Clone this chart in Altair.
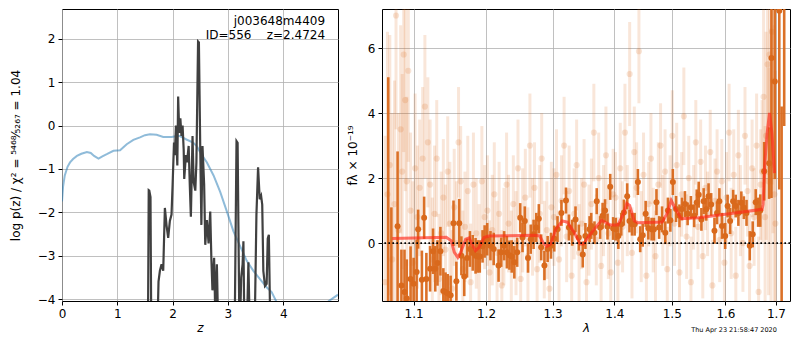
import altair as alt
import pandas as pd

# ---------------- Left panel: log p(z) ----------------
z_prior = [0.0, 0.02, 0.05, 0.1, 0.145, 0.2, 0.27, 0.35, 0.45, 0.52, 0.58, 0.66, 0.73, 0.81,
           0.93, 1.05, 1.17, 1.29, 1.41, 1.50, 1.59, 1.71, 1.83, 1.98, 2.08, 2.13, 2.25, 2.37,
           2.44, 2.50, 2.62, 2.74, 2.86, 2.98, 3.10, 3.22, 3.34, 3.46, 3.58, 3.70, 3.79, 3.88,
           4.0, 4.3, 4.6, 4.82, 4.99]
lnp_prior = [-1.75, -1.4, -1.15, -0.95, -0.85, -0.77, -0.70, -0.65, -0.61, -0.63, -0.70, -0.76,
             -0.71, -0.66, -0.58, -0.57, -0.43, -0.33, -0.27, -0.22, -0.20, -0.21, -0.26, -0.26,
             -0.24, -0.24, -0.32, -0.39, -0.48, -0.62, -0.85, -1.15, -1.53, -1.98, -2.44, -2.78,
             -3.12, -3.35, -3.54, -3.73, -3.84, -4.07, -4.4, -4.6, -4.4, -4.05, -3.90]

z_pz = [1.50, 1.553, 1.568, 1.578, 1.60, 1.615, 1.72, 1.745, 1.77, 1.80, 1.83, 1.86, 1.89, 1.92,
        1.95, 1.98, 2.0, 2.025, 2.04, 2.06, 2.085, 2.10, 2.12, 2.14, 2.16, 2.18, 2.20, 2.21,
        2.24, 2.26, 2.29, 2.31, 2.33, 2.36, 2.38, 2.41, 2.43, 2.46, 2.475, 2.50, 2.52, 2.54,
        2.57, 2.59, 2.62, 2.65, 2.68, 2.70, 2.72, 2.75, 2.77, 2.80, 2.83, 3.12, 3.155, 3.175,
        3.21, 3.24, 3.265, 3.28, 3.30, 3.35, 3.37, 3.40, 3.48, 3.515, 3.545, 3.575, 3.60, 3.62,
        3.64, 3.67, 3.70, 3.72, 3.74, 3.77, 3.85]
lnp_pz = [-6, -5, -1.49, -1.5, -1.65, -5, -5, -3.6, -3.35, -3.2, -3.35, -1.9, -2.3, -2.59,
          -2.2, -2.05, -1.36, -0.39, -0.68, 0.0, -0.92, 0.67, -0.17, 0.17, -0.24, 0.0, -0.55, -1.23,
          -0.68, -0.85, -0.47, -1.36, -2.1, -0.24, -1.3, -1.5, -0.85, 1.94, 1.92, -0.56, -2.29, -0.47,
          -1.36, -2.75, -2.18, -2.72, -1.98, -3.05, -3.8, -3.05, -4.3, -3.2, -5, -5, -0.36, -0.4,
          -5, -3.5, -3.2, -2.67, -5, -4.3, -3.15, -5, -5, -2.06, -0.96, -1.70, -1.62, -1.82,
          -3.35, -3.70, -3.65, -2.6, -2.52, -5, -6]

label_lines = ["j003648m4409", "ID=556\u00a0\u00a0\u00a0\u00a0z=2.4724"]
label_z = [4.756, 4.756]
label_y = [2.41, 2.09]

# ---------------- Right panel: spectrum ----------------
dark_lam = [1.067, 1.071, 1.079, 1.084, 1.088, 1.091, 1.096, 1.100, 1.104, 1.106, 1.111, 1.114,
            1.117, 1.122, 1.126, 1.129, 1.132, 1.136, 1.140, 1.143, 1.146, 1.150, 1.154, 1.158,
            1.162, 1.165, 1.169, 1.173, 1.177, 1.181, 1.185, 1.188, 1.191, 1.195, 1.198,
            1.2017, 1.2064, 1.2111, 1.2182, 1.2221, 1.2264, 1.2304, 1.2342, 1.2376, 1.2415,
            1.2458, 1.2503, 1.2538, 1.2572, 1.2621, 1.2662, 1.2706, 1.2747, 1.2786, 1.2822,
            1.2872, 1.2922, 1.2974, 1.3025, 1.3076, 1.3138, 1.3210, 1.3257, 1.3309, 1.3362,
            1.3415, 1.3479, 1.3522, 1.3590,
            1.3617, 1.3670, 1.3707, 1.3763, 1.3804, 1.3845, 1.3886, 1.3931, 1.3980, 1.4024,
            1.4068, 1.4117, 1.4162, 1.4218, 1.4257, 1.4301, 1.4346, 1.4402, 1.4442, 1.4486,
            1.4537, 1.4584, 1.4641, 1.4682, 1.4727, 1.4774, 1.4826, 1.4884, 1.4931, 1.4975,
            1.5020, 1.5078, 1.5139, 1.5185, 1.5240, 1.5289, 1.5349, 1.5410, 1.5457,
            1.5494, 1.5544, 1.5586, 1.5635, 1.5678, 1.5728, 1.5790, 1.5839, 1.5883, 1.5933,
            1.5995, 1.6041, 1.6090, 1.6148, 1.6198, 1.6250, 1.6308, 1.6358, 1.6410, 1.6474,
            1.6532, 1.6592, 1.6640, 1.6683, 1.6762, 1.6862, 1.6909, 1.6977, 1.7069, 1.7117, 1.7170]
dark_flux = [-2.0, -2.0, 0.52, -1.30, -1.50, -1.70, -1.10, -1.25, -0.89, 0.43, -1.13, 0.78,
             -1.10, -0.79, -0.25, -0.79, -0.61, -0.25, -1.47, -1.50, -1.55, -1.60, 0.61, -1.17,
             0.61, -0.39, -1.03, -0.46, -0.18, -0.30, -0.39, -0.41, -0.41, -0.10, 0.05,
             0.12, -0.08, -0.18, -0.69, -0.28, -0.08, -0.28, -0.37, -0.41, -0.59,
             -0.28, 0.78, 0.17, 0.68, -0.46, 0.12, 0.27, 0.48, 0.75, -0.13,
             -0.69, -0.18, -0.08, 0.14, 0.43, 0.93, 1.31, 0.48, 0.32, 0.73,
             0.17, -0.35, 0.22, 0.43,
             0.53, 0.32, 1.29, 0.48, 0.84, 1.00, 0.51, 1.73, 0.45, 0.43,
             0.22, 0.58, 0.94, 1.44, 0.68, 0.58, 0.58, 1.88, 0.12, 0.24,
             0.90, 0.46, 0.43, 0.43, 1.26, 0.48, 0.73, 0.32, 1.00, 0.70,
             1.88, 1.05, 0.84, 1.05, 1.20, 0.90, 1.10, 0.84, 1.25,
             1.49, 0.73, 1.29, 1.04, 1.44, 1.19, 0.38, 0.93, 1.29, 0.53,
             0.22, 1.14, 0.68, 1.29, 1.14, 0.93, 1.24, 1.09, 0.93, -0.08,
             0.27, 1.26, 0.95, 1.00, 2.21, 2.46, 5.69, 4.97, 7.15, -3.0, 10.0]
dark_err = [7.1, 3.1, 2.3, 1.1, 1.3, 1.2, 1.0, 0.8, 1.0, 0.6, 0.9, 0.65,
            0.8, 0.7, 0.7, 0.7, 0.7, 0.75, 0.7, 0.6, 0.6, 0.6, 0.7, 0.6,
            0.75, 0.6, 0.6, 0.6, 0.55, 0.55, 0.55, 0.5, 0.5, 0.5, 0.5,
            0.5, 0.45, 0.5, 0.5, 0.45, 0.45, 0.5, 0.45, 0.5, 0.5,
            0.45, 0.45, 0.45, 0.45, 0.45, 0.45, 0.45, 0.45, 0.45, 0.4,
            0.45, 0.4, 0.4, 0.4, 0.4, 0.4, 0.4, 0.4, 0.4, 0.4,
            0.4, 0.4, 0.4, 0.4,
            0.4, 0.35, 0.4, 0.35, 0.4, 0.35, 0.4, 0.4, 0.35, 0.35,
            0.4, 0.35, 0.4, 0.4, 0.35, 0.35, 0.35, 0.4, 0.4, 0.35,
            0.4, 0.35, 0.35, 0.35, 0.4, 0.35, 0.4, 0.35, 0.4, 0.35,
            0.4, 0.4, 0.35, 0.35, 0.4, 0.35, 0.35, 0.35, 0.4,
            0.4, 0.35, 0.4, 0.35, 0.4, 0.35, 0.4, 0.35, 0.4, 0.4,
            0.4, 0.35, 0.4, 0.35, 0.35, 0.4, 0.35, 0.35, 0.4, 0.45,
            0.4, 0.4, 0.45, 0.5, 0.9, 1.1, 4.3, 3.0, 5.5, 7.2, 6.4]

faint_lam = [1.063, 1.066, 1.069, 1.072, 1.075, 1.077, 1.080, 1.083, 1.085, 1.087, 1.089, 1.091,
             1.093, 1.096, 1.099, 1.102, 1.105, 1.108, 1.112, 1.115, 1.119,
             1.122, 1.125, 1.128, 1.131, 1.134, 1.137, 1.140, 1.143, 1.146, 1.149, 1.152, 1.155,
             1.158, 1.161, 1.164, 1.167, 1.170, 1.174, 1.178, 1.182, 1.186, 1.190, 1.194, 1.198,
             1.202, 1.205, 1.209, 1.212, 1.216, 1.219, 1.223, 1.226, 1.230, 1.233, 1.237, 1.240,
             1.244, 1.247, 1.251, 1.254, 1.258, 1.262, 1.265, 1.269, 1.272, 1.276, 1.280, 1.283,
             1.287, 1.291, 1.295, 1.298,
             1.302, 1.306, 1.310, 1.314, 1.318, 1.322, 1.326, 1.330, 1.334, 1.338, 1.342, 1.346,
             1.350, 1.354, 1.358, 1.362, 1.366, 1.370, 1.374, 1.378, 1.382, 1.386, 1.390, 1.394, 1.398,
             1.402, 1.406, 1.410, 1.414, 1.418, 1.422, 1.426, 1.430, 1.434, 1.438, 1.442, 1.446,
             1.450, 1.455, 1.459, 1.463, 1.467, 1.471, 1.476, 1.480, 1.484, 1.488, 1.492, 1.497,
             1.501, 1.505, 1.509, 1.514, 1.518, 1.522, 1.527, 1.531, 1.535, 1.540, 1.544, 1.548,
             1.553, 1.557, 1.562, 1.566, 1.571, 1.575, 1.580, 1.584, 1.589, 1.593, 1.598,
             1.602, 1.607, 1.611, 1.616, 1.620, 1.625, 1.629, 1.634, 1.638, 1.643, 1.647, 1.652,
             1.656, 1.661, 1.665, 1.669,
             1.672, 1.675, 1.678, 1.680, 1.683, 1.685, 1.687, 1.690, 1.692, 1.694, 1.697, 1.699]
faint_flux = [-1.2, 1.5, 2.4, -0.5, 1.2, 7.0, 0.4, 3.5, 2.2, 5.8, 4.4, 1.9, 5.3, 1.0, -0.6, 2.3,
              0.8, 1.7, 2.6, 4.2, 3.1,
              1.8, -0.5, 0.9, 2.6, -1.1, 0.3, 1.4, -0.2, 2.2, 0.6, -1.4, 1.1, 0.0, 3.1, 1.9, -0.8,
              0.5, 1.6, -1.2, 1.8, 0.3, -0.4, 1.9, 0.8,
              1.0, -0.9, 0.4, 1.5, -0.3, 0.9, -1.3, 0.2, 1.8, 0.6, -0.6, 1.2, 0.0, 2.3, -1.1, 0.7,
              1.4, -0.4, 3.0, 0.5, 1.7, -0.8, 0.9, 2.6, -0.2, 0.4, -1.4, 1.1,
              0.8, 2.1, -0.5, 1.3, 3.0, 0.2, 1.6, -1.0, 0.9, 2.4, -0.3, 0.6, 1.8, -1.2, 0.4, 1.2,
              3.4, 0.1, 2.0, -0.7, 1.0, 2.7, 0.3, -0.9, 1.5,
              1.4, -0.6, 2.3, 0.5, 3.4, 1.0, 5.2, -0.3, 2.8, 1.7, 5.9, 0.2, 2.1, -1.0, 1.2, 2.6,
              0.4, -0.4, 1.8, 3.0, 0.7, 2.2, -0.8, 1.3,
              3.3, 0.6, 2.4, -0.9, 1.5, 3.9, 0.2, 2.0, -1.2, 1.1, 3.1, 0.5, 2.5, -0.4, 1.7, 0.9,
              2.8, -1.3, 1.3, 2.2, 0.1, 1.9, -0.6,
              1.4, 3.4, 0.3, 2.1, -1.0, 2.7, 1.0, 0.0, 3.3, 1.6, -0.7, 2.3, 0.8, 3.0, -1.5, 1.8,
              2.2, 4.5, 0.8, 3.3, 5.5, 1.9, 5.8, 2.4, 6.5, 5.0, 1.5, 0.6]
faint_err = [4.5, 5.0, 4.0, 4.5, 3.8, 3.5, 3.6, 3.2, 3.0, 3.0, 2.8, 2.6, 2.8, 2.4, 2.5, 2.3,
             2.2, 2.1, 2.2, 2.2, 2.0,
             2.0, 1.9, 2.1, 1.8, 2.0, 1.9, 1.8, 2.0, 1.7, 1.9, 1.8, 1.8, 1.9, 1.7, 1.7, 1.8,
             1.7, 1.7, 1.8, 1.6, 1.7, 1.6, 1.7, 1.6,
             1.7, 1.6, 1.7, 1.6, 1.6, 1.6, 1.7, 1.5, 1.6, 1.5, 1.6, 1.5, 1.6, 1.5, 1.5, 1.6,
             1.5, 1.5, 1.6, 1.5, 1.4, 1.5, 1.5, 1.4, 1.5, 1.5, 1.5, 1.4,
             1.5, 1.4, 1.5, 1.4, 1.5, 1.4, 1.4, 1.5, 1.4, 1.4, 1.5, 1.4, 1.4, 1.5, 1.4, 1.4,
             1.5, 1.4, 1.4, 1.4, 1.4, 1.5, 1.4, 1.4, 1.4,
             1.4, 1.4, 1.4, 1.4, 1.5, 1.4, 1.6, 1.4, 1.4, 1.4, 1.6, 1.4, 1.3, 1.4, 1.3, 1.4,
             1.3, 1.4, 1.3, 1.3, 1.4, 1.3, 1.3, 1.4,
             1.4, 1.3, 1.3, 1.4, 1.3, 1.5, 1.3, 1.3, 1.4, 1.3, 1.3, 1.3, 1.3, 1.3, 1.3, 1.3,
             1.3, 1.4, 1.3, 1.3, 1.3, 1.3, 1.4,
             1.4, 1.5, 1.4, 1.4, 1.5, 1.4, 1.4, 1.5, 1.5, 1.4, 1.6, 1.5, 1.5, 1.6, 1.7, 1.7,
             2.2, 2.7, 2.8, 3.2, 3.4, 3.5, 3.7, 4.2, 4.7, 4.7, 5.2, 4.7]

model_lam = [1.072, 1.144, 1.151, 1.155, 1.160, 1.164, 1.171, 1.176, 1.181, 1.185, 1.190, 1.197,
             1.204, 1.272, 1.280, 1.285, 1.291, 1.297, 1.305, 1.315, 1.323, 1.334, 1.344, 1.349,
             1.358, 1.371, 1.379, 1.384, 1.393, 1.406, 1.415, 1.421, 1.426, 1.434, 1.440, 1.483,
             1.492, 1.499, 1.506, 1.517, 1.549, 1.611, 1.672, 1.674, 1.677, 1.682, 1.687, 1.692, 1.697]
model_flux = [0.14, 0.18, 0.07, -0.28, -0.44, -0.28, 0.12, 0.16, -0.08, -0.23, -0.13, 0.17,
              0.22, 0.24, 0.22, 0.02, -0.10, -0.03, 0.43, 0.68, 0.65, 0.33, -0.03, -0.03,
              0.22, 0.53, 0.70, 0.65, 0.56, 0.56, 0.88, 1.22, 1.16, 0.68, 0.63, 0.65,
              0.93, 1.31, 1.08, 0.75, 0.78, 0.91, 1.04, 1.19, 2.36, 3.37, 4.00, 3.37, 2.15]

stamp_text = ["Thu Apr 23 21:58:47 2020"]
stamp_lam = [1.702]
stamp_y = [-2.68]

# ---------------- Build ----------------
FONT = "DejaVu Sans"
ORANGE = "#d9691c"

df_prior = pd.DataFrame({"z": z_prior, "lnp": lnp_prior})
df_pz = pd.DataFrame({"z": z_pz, "lnp": lnp_pz})
df_lab = pd.DataFrame({"z": label_z, "lnp": label_y, "t": label_lines})

ytitle_left = "log p(z) / \u03c7\u00b2 = \u2075\u2074\u2076\u2078\u2044\u2085\u2082\u2086\u2087 = 1.04"

xz = alt.X("z:Q", scale=alt.Scale(domain=[0, 4.99], nice=False, zero=False),
           axis=alt.Axis(values=[0, 1, 2, 3, 4], title="z", titleFontStyle="italic"))
yl = alt.Y("lnp:Q", scale=alt.Scale(domain=[-4.046, 2.69], nice=False, zero=False),
           axis=alt.Axis(values=[-4, -3, -2, -1, 0, 1, 2], title=ytitle_left, titlePadding=15))

prior = alt.Chart(df_prior).mark_line(color="#1f77b4", opacity=0.5, strokeWidth=2, clip=True).encode(x=xz, y=yl)
pz = alt.Chart(df_pz).mark_line(color="#404040", strokeWidth=2.2, clip=True).encode(x="z:Q", y="lnp:Q")
lab = alt.Chart(df_lab).mark_text(align="right", baseline="middle", fontSize=12, font=FONT, color="black").encode(
    x="z:Q", y="lnp:Q", text="t:N")

left = alt.layer(prior, pz, lab).properties(width=276, height=292)

df_dark = pd.DataFrame({"lam": dark_lam, "flux": dark_flux, "err": dark_err})
df_faint = pd.DataFrame({"lam": faint_lam, "flux": faint_flux, "err": faint_err})
df_model = pd.DataFrame({"lam": model_lam, "flux": model_flux})
df_stamp = pd.DataFrame({"lam": stamp_lam, "flux": stamp_y, "t": stamp_text})

ytitle_right = "f\u03bb \u00d7 10\u207b\u00b9\u2079"
xs = alt.Scale(type="log", domain=[1.059, 1.729], nice=False, zero=False)
ys = alt.Scale(domain=[-1.78, 7.2], nice=False, zero=False)
xl = alt.X("lam:Q", scale=xs, axis=alt.Axis(values=[1.1, 1.2, 1.3, 1.4, 1.5, 1.6, 1.7], format=".1f",
                                             title="\u03bb", titleFontStyle="italic"))
yax = alt.Axis(values=[0, 2, 4, 6], title=ytitle_right, titlePadding=8)

faint_bars = alt.Chart(df_faint).transform_calculate(
    lo="datum.flux - datum.err", hi="datum.flux + datum.err").mark_rule(
    color=ORANGE, opacity=0.17, strokeWidth=3, clip=True).encode(
    x=xl, y=alt.Y("lo:Q", scale=ys, axis=yax, title=ytitle_right), y2="hi:Q")
faint_pts = alt.Chart(df_faint).mark_circle(color=ORANGE, opacity=0.18, size=38, clip=True).encode(
    x="lam:Q", y=alt.Y("flux:Q", title=ytitle_right))
dark_bars = alt.Chart(df_dark).transform_calculate(
    lo="datum.flux - datum.err", hi="datum.flux + datum.err").mark_rule(
    color=ORANGE, opacity=0.95, strokeWidth=2.6, clip=True).encode(
    x="lam:Q", y=alt.Y("lo:Q", title=ytitle_right), y2="hi:Q")
dark_pts = alt.Chart(df_dark).mark_circle(color=ORANGE, opacity=1, size=36, clip=True).encode(
    x="lam:Q", y=alt.Y("flux:Q", title=ytitle_right))
model = alt.Chart(df_model).mark_line(color="#ff2a1a", opacity=0.65, strokeWidth=3, clip=True).encode(
    x="lam:Q", y=alt.Y("flux:Q", title=ytitle_right))
zero = alt.Chart(pd.DataFrame({"v": [0]})).mark_rule(color="black", strokeDash=[1.6, 2.4], strokeWidth=1.6).encode(
    y=alt.Y("v:Q", title=ytitle_right))
stamp = alt.Chart(df_stamp).mark_text(align="right", baseline="middle", fontSize=6.5, font=FONT, color="black").encode(
    x="lam:Q", y=alt.Y("flux:Q", title=ytitle_right), text="t:N")

right = alt.layer(faint_bars, faint_pts, dark_bars, dark_pts, model, zero, stamp).properties(width=408, height=292)

chart = alt.hconcat(left, right, spacing=6).properties(
    padding={"left": 0, "top": 0, "right": 0, "bottom": 0}
).configure_view(stroke="black", strokeWidth=1).configure_axis(
    labelFont=FONT, labelFontSize=12, labelColor="black", labelFlush=False,
    titleFont=FONT, titleFontSize=12, titleFontWeight="normal", titleColor="black",
    tickColor="black", tickSize=4, tickWidth=1, domain=False,
    gridColor="#b0b0b0", gridWidth=0.8, gridOpacity=1, labelPadding=3
).configure_axisX(labelPadding=3, titlePadding=3)

chart.save("out.html", embed_options={"renderer": "svg", "actions": False})
